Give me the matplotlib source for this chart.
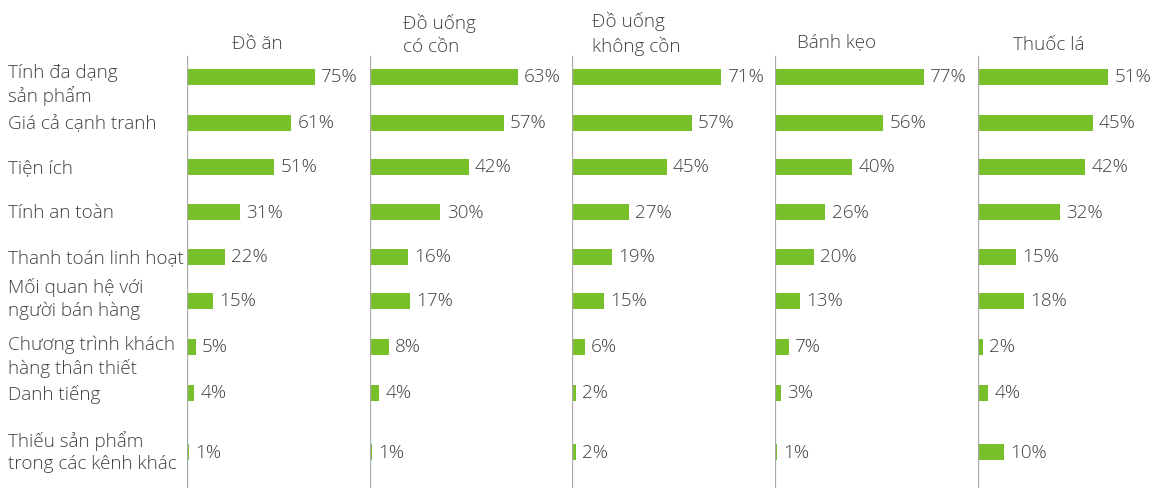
import matplotlib
matplotlib.use("Agg")
import matplotlib.pyplot as plt

# ---- data ----
factors = [
    "Tính đa dạng\nsản phẩm",
    "Giá cả cạnh tranh",
    "Tiện ích",
    "Tính an toàn",
    "Thanh toán linh hoạt",
    "Mối quan hệ với\nngười bán hàng",
    "Chương trình khách\nhàng thân thiết",
    "Danh tiếng",
    "Thiếu sản phẩm\ntrong các kênh khác",
]
segments = ["Đồ ăn", "Đồ uống\ncó cồn", "Đồ uống\nkhông cồn", "Bánh kẹo", "Thuốc lá"]
do_an = [75, 61, 51, 31, 22, 15, 5, 4, 1]
do_uong_co_con = [63, 57, 42, 30, 16, 17, 8, 4, 1]
do_uong_khong_con = [71, 57, 45, 27, 19, 15, 6, 2, 2]
banh_keo = [77, 56, 40, 26, 20, 13, 7, 3, 1]
thuoc_la = [51, 45, 42, 32, 15, 18, 2, 4, 10]
series = [do_an, do_uong_co_con, do_uong_khong_con, banh_keo, thuoc_la]

# ---- layout (pixels) ----
W, H = 1154, 488
row_y = [77, 123, 167, 212, 257, 301, 347, 393, 452]
label_dy = [8, 1, 1, 1, 1, -2, 10, 1, 0]
panel_x = [187, 370, 572, 775, 978]
panel_right = [370, 572, 775, 978, 1154]
panel_xmax = [107.2, 86.0, 96.5, 105.0, 69.0]
title_pos = [(257, 49, "center"), (403, 52, "left"), (592, 52, "left"),
             (837, 47, "center"), (1049, 50, "center")]

GREEN = "#78c02a"
TEXT = "#404040"
AXIS = "#a8a8a8"
FONT = "Open Sans"
FS = 13.6

plt.rcParams["font.family"] = [FONT, "DejaVu Sans"]

fig = plt.figure(figsize=(W / 100, H / 100), dpi=100)
fig.patch.set_facecolor("white")

for i, vals in enumerate(series):
    left = panel_x[i] / W
    width = (panel_right[i] - panel_x[i]) / W
    ax = fig.add_axes([left, 0, width, 1])
    ax.set_xlim(0, panel_xmax[i])
    ax.set_ylim(H, 0)
    ax.axis("off")
    ax.barh(row_y, vals, height=16.5, color=GREEN, left=0, zorder=2)
    ax.axvline(0, ymin=0, ymax=(H - 57) / H, color=AXIS, lw=1.6, zorder=3)
    for y, v in zip(row_y, vals):
        ax.annotate(f"{v}%", xy=(v, y + 0.5), xytext=(4.5, 0), textcoords="offset points",
                    va="center", ha="left", fontsize=FS, color=TEXT, fontweight="light")
    tx, ty, ha = title_pos[i]
    fig.text(tx / W, 1 - ty / H, segments[i], ha=ha, va="baseline",
             fontsize=FS, color=TEXT, fontweight="light", linespacing=1.35)

for lab, y, dy in zip(factors, row_y, label_dy):
    fig.text(8 / W, 1 - (y + dy) / H, lab, ha="left", va="center",
             fontsize=FS, color=TEXT, fontweight="light", linespacing=1.3)

fig.savefig("out.png", dpi=100, facecolor="white")
